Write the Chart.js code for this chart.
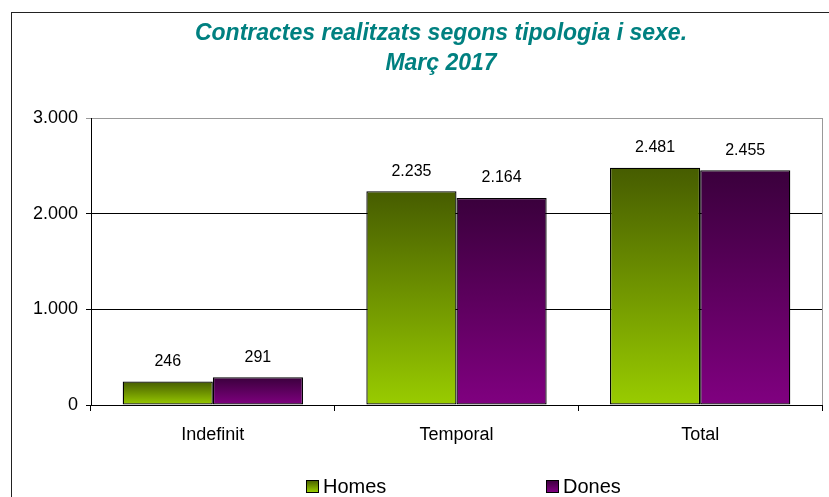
<!DOCTYPE html>
<html>
<head>
<meta charset="utf-8">
<script src="https://cdn.jsdelivr.net/npm/chart.js@4"></script>
<style>
  body { margin: 0; background: #fff; }
  #wrap { position: relative; width: 829px; height: 497px; }
</style>
</head>
<body>
<div id="wrap"><canvas id="chart"></canvas></div>
<script>
const categories = ["Indefinit", "Temporal", "Total"];
const homes = [246, 2235, 2481];
const dones = [291, 2164, 2455];
const titleLines = ["Contractes realitzats segons tipologia i sexe.", "Març 2017"];
const yTicks = [0, 1000, 2000, 3000];

const FONT = "'Liberation Sans', Arial, sans-serif";

function fmt(v) {
    return String(v).replace(/\B(?=(\d{3})+(?!\d))/g, ".");
}

// gradient per bar, dark on top and light at the base
function barGradient(top, bottom) {
    return function (ctx) {
        const chart = ctx.chart;
        const y = chart.scales.y;
        if (!y || ctx.type !== "data") return bottom;
        const y0 = y.getPixelForValue(ctx.raw);
        const y1 = y.getPixelForValue(0);
        if (!isFinite(y0) || !isFinite(y1) || y0 === y1) return bottom;
        const g = chart.ctx.createLinearGradient(0, y0, 0, y1);
        g.addColorStop(0, top);
        g.addColorStop(1, bottom);
        return g;
    };
}

const frame = {
    id: "frame",
    beforeDraw(chart) {
        const c = chart.ctx;
        c.save();
        c.fillStyle = "#fff";
        c.fillRect(0, 0, chart.width, chart.height);
        c.strokeStyle = "#222";
        c.lineWidth = 1;
        c.strokeRect(11.5, 12.5, 1000, 1000);
        // titol
        c.fillStyle = "#008080";
        c.font = "italic bold 23px " + FONT;
        c.textAlign = "center";
        c.textBaseline = "middle";
        c.fillText(titleLines[0], 441, 34);
        c.fillText(titleLines[1], 441, 64);
        // vora dreta de l'area
        const a = chart.chartArea;
        c.strokeStyle = "#999";
        c.beginPath();
        c.moveTo(a.right + 0.5, a.top);
        c.lineTo(a.right + 0.5, a.bottom);
        c.stroke();
        c.restore();
    },
    afterDatasetsDraw(chart) {
        const c = chart.ctx;
        c.save();
        c.fillStyle = "#000";
        c.font = "16px " + FONT;
        c.textAlign = "center";
        c.textBaseline = "middle";
        chart.data.datasets.forEach((ds, i) => {
            chart.getDatasetMeta(i).data.forEach((el, j) => {
                c.fillText(fmt(ds.data[j]), el.x, el.y - 20);
            });
        });
        c.restore();
    },
    afterDraw(chart) {
        // llegenda
        const c = chart.ctx;
        const items = [
            { x: 306, ds: chart.data.datasets[0], top: "#465c00", bot: "#99cc00" },
            { x: 546, ds: chart.data.datasets[1], top: "#3a003c", bot: "#800080" },
        ];
        c.save();
        c.font = "20px " + FONT;
        c.textBaseline = "middle";
        items.forEach((it) => {
            const g = c.createLinearGradient(0, 480, 0, 492);
            g.addColorStop(0, it.top);
            g.addColorStop(1, it.bot);
            c.fillStyle = g;
            c.fillRect(it.x, 480, 12, 12);
            c.strokeStyle = "#000";
            c.lineWidth = 1;
            c.strokeRect(it.x + 0.5, 480.5, 12, 12);
            c.fillStyle = "#000";
            c.fillText(it.ds.label, it.x + 17, 487);
        });
        c.restore();
    },
};

new Chart(document.getElementById("chart"), {
    type: "bar",
    data: {
        labels: categories,
        datasets: [
            {
                label: "Homes",
                data: homes,
                backgroundColor: barGradient("#465c00", "#99cc00"),
                borderColor: "#000",
                borderWidth: 1.3,
                borderSkipped: false,
            },
            {
                label: "Dones",
                data: dones,
                backgroundColor: barGradient("#3a003c", "#800080"),
                borderColor: "#000",
                borderWidth: 1.3,
                borderSkipped: false,
            },
        ],
    },
    options: {
        responsive: true,
        maintainAspectRatio: false,
        animation: false,
        layout: { padding: { left: 0, right: 7, top: 118, bottom: 42 } },
        datasets: {
            bar: { categoryPercentage: 0.74, barPercentage: 1 },
        },
        plugins: {
            legend: { display: false },
            title: { display: false },
            tooltip: { enabled: false },
        },
        scales: {
            x: {
                afterFit(s) { s.height = 50; },
                grid: {
                    display: true,
                    offset: true,
                    drawOnChartArea: false,
                    tickLength: 6,
                    color: "#000",
                },
                border: { color: "#000" },
                ticks: {
                    color: "#000",
                    font: { family: FONT, size: 18 },
                    padding: 13,
                },
            },
            y: {
                min: 0,
                max: 3000,
                afterFit(s) { s.width = 91; },
                afterBuildTicks(s) { s.ticks = yTicks.map((v) => ({ value: v })); },
                grid: {
                    color: (ctx) => (ctx.tick && ctx.tick.value === 3000 ? "#999" : "#000"),
                    tickLength: 5,
                },
                border: { color: "#000" },
                ticks: {
                    color: "#000",
                    font: { family: FONT, size: 18 },
                    padding: 8,
                    callback: (v) => fmt(v),
                },
            },
        },
    },
    plugins: [frame],
});
</script>
</body>
</html>
